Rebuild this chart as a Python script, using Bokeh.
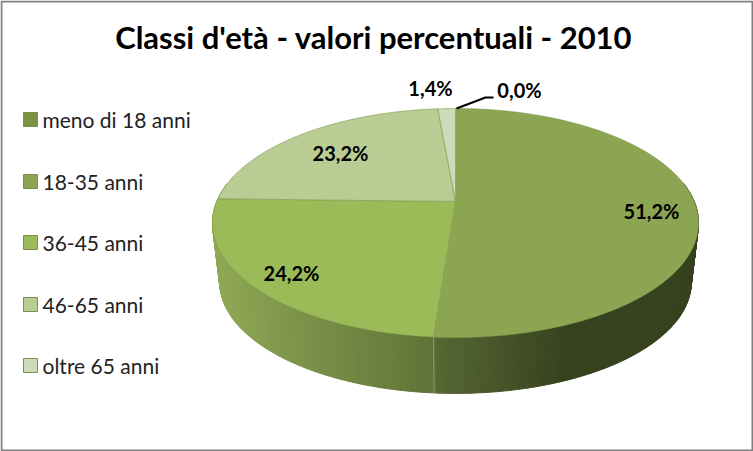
import numpy as np
from bokeh.plotting import figure
from bokeh.models import Range1d
from bokeh.core.properties import value
from bokeh.embed import file_html
from bokeh.resources import INLINE

title_text = "Classi d'età - valori percentuali  - 2010"
categories = ["meno di 18 anni", "18-35 anni", "36-45 anni", "46-65 anni", "oltre 65 anni"]
percentages = [0.0, 51.2, 24.2, 23.2, 1.4]
labels = ["0,0%", "51,2%", "24,2%", "23,2%", "1,4%"]
colors = ["#7b9443", "#8ba552", "#9bbb59", "#b8cc94", "#cddbb9"]

W, H = 753, 451
FONT = "Lato"
CX, APEX_TOP, APEX_BOT = 455.0, 201.0, 261.0
A, B, K, SCALE = 110.46, 238.7, 0.1877, 0.97


def project(theta, apex, s=1.0):
    X, Y = np.sin(theta), np.cos(theta)
    w = 1 + K * Y
    return CX + s * B * X / w, apex - s * A * Y / w


p = figure(width=W, height=H, output_backend="svg", toolbar_location=None,
           x_range=Range1d(0, W), y_range=Range1d(H, 0), min_border=0,
           x_axis_type=None, y_axis_type=None, outline_line_color=None,
           background_fill_color="white", border_fill_color="white",
           styles={"position": "absolute", "left": "0px", "top": "0px"})
p.grid.visible = False

# side wall, drawn as thin strips shaded by screen position
stops_x = [205, 300, 433, 434, 500, 565, 705]
stops_rgb = np.array([[0x92, 0xad, 0x58], [0x7d, 0x93, 0x49], [0x60, 0x73, 0x38],
                      [0x57, 0x68, 0x33], [0x47, 0x55, 0x2a], [0x37, 0x42, 0x1e], [0x36, 0x42, 0x1e]], float)
th = np.radians(np.linspace(80, 280, 301))
xs, ys, cs = [], [], []
for a, b in zip(th[:-1], th[1:]):
    xa, ya = project(a, APEX_TOP)
    xb, yb = project(b, APEX_TOP)
    xc, yc = project(b, APEX_BOT, SCALE)
    xd, yd = project(a, APEX_BOT, SCALE)
    xs.append([xa, xb, xc, xd])
    ys.append([ya, yb, yc, yd])
    mid = (xa + xb + xc + xd) / 4
    rgb = [int(np.interp(mid, stops_x, stops_rgb[:, i])) for i in range(3)]
    cs.append("#%02x%02x%02x" % tuple(rgb))
p.patches(xs, ys, fill_color=cs, line_color=cs, line_width=1.0)

# top surface slices, clockwise from twelve o'clock
edges = np.cumsum([0] + percentages) / sum(percentages) * 2 * np.pi
for pct, start, end, col in zip(percentages, edges[:-1], edges[1:], colors):
    if pct == 0:
        continue
    t = np.linspace(start, end, 200)
    x, y = project(t, APEX_TOP)
    p.patch(np.r_[CX, x], np.r_[APEX_TOP, y], fill_color=col, line_color="#7f994c", line_width=0.6)

# seam on the wall where two slices meet
seam = edges[2]
sx0, sy0 = project(seam, APEX_TOP)
sx1, sy1 = project(seam, APEX_BOT, SCALE)
p.line([sx0, sx1], [sy0, sy1], line_color="#93a868", line_width=0.8)

# data labels
label_x = [519, 651, 291, 340, 430]
label_y = [89, 210, 272, 152, 87]
p.text(label_x, label_y, text=labels, text_font=value(FONT), text_font_style="bold",
       text_font_size="20px", text_color="#000000", text_align="center", text_baseline="middle")

# leader line of the smallest label
lx0, ly0 = project(edges[1] + 0.005, APEX_TOP)
p.line([lx0, 485, 493], [ly0, 97, 97], line_color="#000000", line_width=2)

# title
p.text([377], [36], text=[title_text], text_font=value(FONT), text_font_style="bold",
       text_font_size="31px", text_color="#000000", text_align="center", text_baseline="middle")

# legend
legend_y = [119, 181, 242, 304, 365]
p.rect([30] * 5, legend_y, width=14, height=14, fill_color=colors, line_color="#7b8f52", line_width=1)
p.text([42] * 5, legend_y, text=categories, text_font=value(FONT), text_font_size="21px",
       text_color="#222222", text_align="left", text_baseline="middle")

# frame
p.quad(left=[1], right=[W - 1], top=[1], bottom=[H - 1], fill_color=None,
       line_color="#808080", line_width=2)

open("out.html", "w").write(file_html(p, INLINE))
